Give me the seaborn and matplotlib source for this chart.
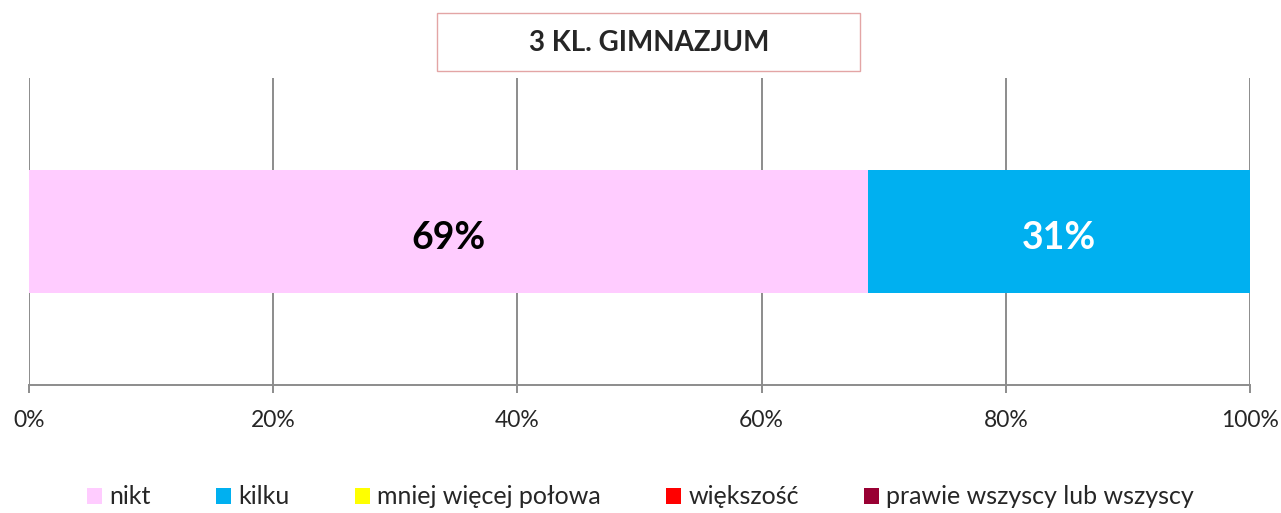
import numpy as np
import pandas as pd
import matplotlib.pyplot as plt
import seaborn as sns
from matplotlib.patches import Patch, Rectangle


# DATA

TITLE = "3 KL. GIMNAZJUM"
categories = ["nikt", "kilku", "mniej więcej połowa", "większość",
              "prawie wszyscy lub wszyscy"]
values = [68.7, 31.3, 0, 0, 0]
colors = ["#FFCCFF", "#00B0F0", "#FFFF00", "#FF0000", "#990033"]
label_colors = ["black", "white", "black", "white", "white"]
tick_values = [0, 20, 40, 60, 80, 100]
tick_labels = ["0%", "20%", "40%", "60%", "80%", "100%"]


# STYLE

sns.set_style("white")
plt.rcParams['font.family'] = ['Lato', 'DejaVu Sans']

fig = plt.figure(figsize=(12.81, 5.13), dpi=100)
ax = fig.add_axes([0.0226, 0.2495, 0.9532, 0.5985])

# stacked bar: draw cumulative totals from the last series back to the first
cum = np.cumsum(values)
row = "3 kl"
for i in range(len(categories) - 1, -1, -1):
    df = pd.DataFrame({"value": [cum[i]], "row": [row]})
    sns.barplot(data=df, x="value", y="row", orient="h", color=colors[i],
                width=0.4, saturation=1, ax=ax, zorder=3, linewidth=0)

# value labels
for i, v in enumerate(values):
    if v > 0:
        ax.text(cum[i] - v / 2, 0.02, f"{v:.0f}%", ha="center", va="center",
                fontsize=27, fontweight="bold", color=label_colors[i], zorder=4)

ax.set_xlim(0, 100)
ax.set_ylim(0.5, -0.5)
ax.set_xticks(tick_values)
ax.set_xticklabels(tick_labels, fontsize=16.5)
ax.set_yticks([])
ax.set_xlabel("")
ax.set_ylabel("")

ax.grid(axis="x", color="#8C8C8C", linewidth=1.4, zorder=0)
for s in ["top", "right", "left"]:
    ax.spines[s].set_visible(False)
ax.spines["bottom"].set_color("#8C8C8C")
ax.spines["bottom"].set_linewidth(1.4)
ax.spines["bottom"].set_zorder(5)
ax.tick_params(axis="x", direction="out", length=6, width=1.4,
               color="#8C8C8C", pad=12, bottom=True)

# title box
fig.patches.append(Rectangle((437 / 1281, 1 - 71 / 513), 423 / 1281, 58 / 513,
                             transform=fig.transFigure, facecolor="white",
                             edgecolor="#E3A5A5", linewidth=1.0))
fig.text(649 / 1281, 1 - 43 / 513, TITLE, ha="center", va="center",
         fontsize=20, fontweight="bold")

# legend
handles = [Patch(facecolor=c, edgecolor="none") for c in colors]
fig.legend(handles, categories, loc="center", bbox_to_anchor=(0.5, 1 - 497 / 513),
           ncol=5, frameon=False, fontsize=18, handlelength=0.6,
           handleheight=0.6, handletextpad=0.3, columnspacing=2.6)

fig.savefig("out.png", dpi=100)
